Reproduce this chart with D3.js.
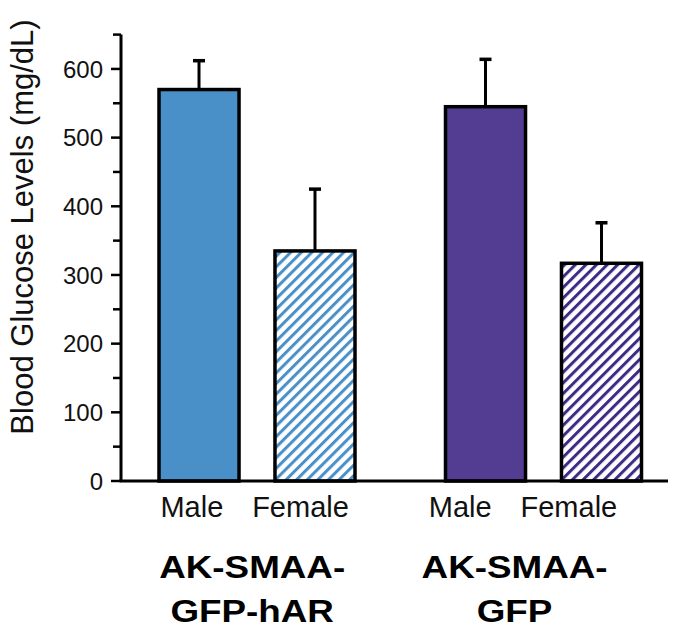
<!DOCTYPE html>
<html>
<head>
<meta charset="utf-8">
<script src="https://cdn.jsdelivr.net/npm/d3@7"></script>
<style>
  html, body { margin: 0; padding: 0; background: #fff; }
  svg { display: block; font-family: "Liberation Sans", Arial, sans-serif; }
</style>
</head>
<body>
<svg id="chart" width="677" height="631"></svg>
<script>
// ---- data ----
const groups = ["AK-SMAA-GFP-hAR", "AK-SMAA-GFP"];
const groupLines = [["AK-SMAA-", "GFP-hAR"], ["AK-SMAA-", "GFP"]];
const sexes = ["Male", "Female"];
const meanValues = [[570, 335], [545, 317]];
const errorTops = [[612, 425], [614, 376]];
const majorTicks = [0, 100, 200, 300, 400, 500, 600];
const minorTicks = [50, 150, 250, 350, 450, 550, 650];
const yLabel = "Blood Glucose Levels (mg/dL)";
const groupColors = ["#4a90c8", "#533d92"];
const hatchColors = ["#4a90c8", "#3d2b86"];

const svg = d3.select("#chart");

// ---- scales ----
const axisX = 121, xEnd = 668;
const y = d3.scaleLinear().domain([0, 650]).range([481, 34.6]);
const xGroup = d3.scalePoint().domain(groups).range([257, 543.5]);
const xSex = d3.scaleBand().domain(sexes).range([-98, 98]).paddingInner(0.31);
const labelX = d3.scaleLinear().domain([197, 599.5]).range([190, 567]);

// ---- patterns ----
const defs = svg.append("defs");
hatchColors.forEach((c, i) => {
  const p = defs.append("pattern")
    .attr("id", "hatch" + i)
    .attr("patternUnits", "userSpaceOnUse")
    .attr("width", 7.5).attr("height", 7.5)
    .attr("patternTransform", "rotate(-45)");
  p.append("rect").attr("width", 7.5).attr("height", 7.5).attr("fill", "#fff");
  p.append("rect").attr("x", 0).attr("y", 0).attr("width", 7.5).attr("height", 3).attr("fill", c);
});

// ---- bars ----
const data = [];
groups.forEach((g, gi) => sexes.forEach((s, si) => {
  data.push({ g, gi, s, si, v: meanValues[gi][si], e: errorTops[gi][si] });
}));
const cx = d => xGroup(d.g) + xSex(d.s) + xSex.bandwidth() / 2;

svg.selectAll(".err").data(data).enter().append("line")
  .attr("x1", cx).attr("x2", cx)
  .attr("y1", d => y(d.v)).attr("y2", d => y(d.e))
  .attr("stroke", "#000").attr("stroke-width", 3);
svg.selectAll(".cap").data(data).enter().append("line")
  .attr("x1", d => cx(d) - 6).attr("x2", d => cx(d) + 6)
  .attr("y1", d => y(d.e)).attr("y2", d => y(d.e))
  .attr("stroke", "#000").attr("stroke-width", 3.5);

svg.selectAll(".bar").data(data).enter().append("rect")
  .attr("x", d => xGroup(d.g) + xSex(d.s))
  .attr("width", xSex.bandwidth())
  .attr("y", d => y(d.v))
  .attr("height", d => y(0) - y(d.v))
  .attr("fill", d => d.si === 0 ? groupColors[d.gi] : `url(#hatch${d.gi})`)
  .attr("stroke", "#000").attr("stroke-width", 3.5);

// ---- axes ----
svg.append("line").attr("x1", axisX).attr("x2", axisX)
  .attr("y1", y(650)).attr("y2", y(0))
  .attr("stroke", "#000").attr("stroke-width", 3);
svg.append("line").attr("x1", axisX - 1.5).attr("x2", xEnd)
  .attr("y1", y(0)).attr("y2", y(0))
  .attr("stroke", "#000").attr("stroke-width", 3);

svg.selectAll(".maj").data(majorTicks).enter().append("line")
  .attr("x1", axisX - 10).attr("x2", axisX)
  .attr("y1", d => y(d)).attr("y2", d => y(d))
  .attr("stroke", "#000").attr("stroke-width", 2.5);
svg.selectAll(".min").data(minorTicks).enter().append("line")
  .attr("x1", axisX - 8).attr("x2", axisX)
  .attr("y1", d => y(d)).attr("y2", d => y(d))
  .attr("stroke", "#000").attr("stroke-width", 2.5);
svg.selectAll(".tl").data(majorTicks).enter().append("text")
  .attr("x", 103).attr("y", d => y(d))
  .attr("dy", "0.36em")
  .attr("text-anchor", "end")
  .attr("font-size", 24)
  .attr("fill", "#111")
  .text(d => d);

// y label
svg.append("text")
  .attr("transform", `translate(33, ${227}) rotate(-90)`)
  .attr("text-anchor", "middle")
  .attr("font-size", 31)
  .attr("fill", "#111")
  .text(yLabel);

// sex labels
svg.selectAll(".sl").data(data).enter().append("text")
  .attr("x", d => labelX(cx(d)))
  .attr("y", 517)
  .attr("text-anchor", "middle")
  .attr("font-size", 29)
  .attr("fill", "#111")
  .text(d => d.s);

// group labels
groups.forEach((g, gi) => {
  groupLines[gi].forEach((ln, li) => {
    svg.append("text")
      .attr("transform", `translate(${labelX(xGroup(g)) + (gi === 0 ? 6 : 0)}, ${578 + li * 44}) scale(1.15,1)`)
      .attr("text-anchor", "middle")
      .attr("font-size", 32)
      .attr("font-weight", "bold")
      .attr("fill", "#000")
      .text(ln);
  });
});
</script>
</body>
</html>
